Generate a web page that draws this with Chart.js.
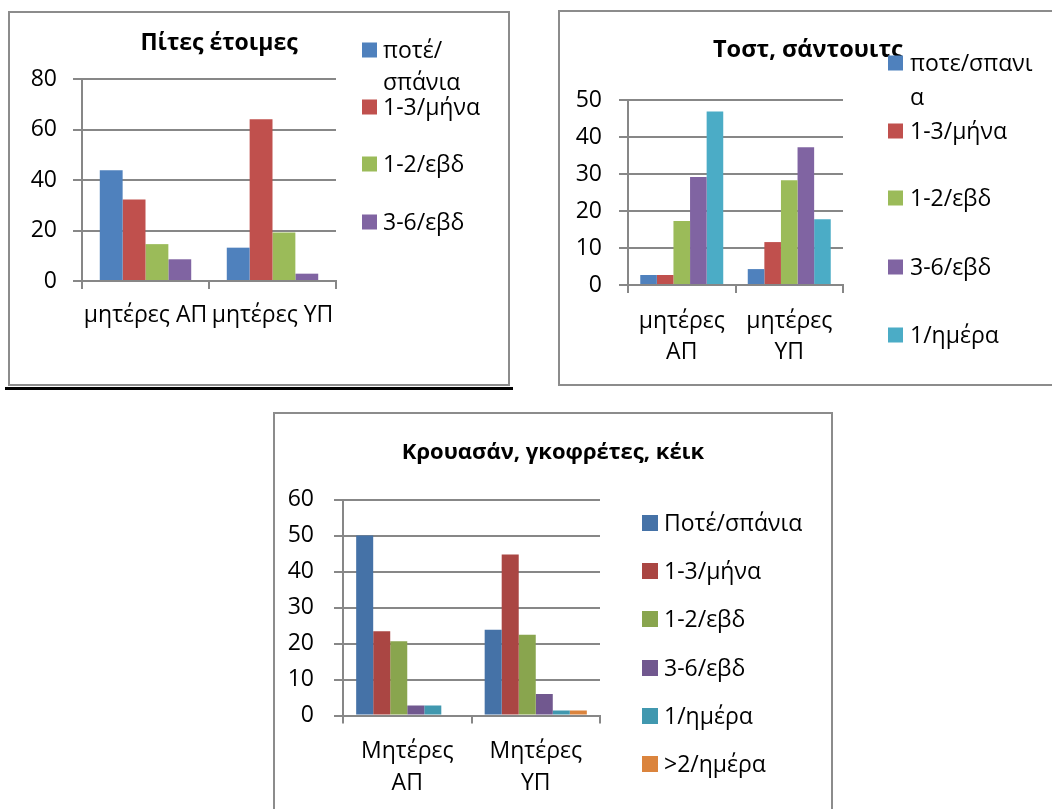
<!DOCTYPE html>
<html>
<head>
<meta charset="utf-8">
<script src="https://cdn.jsdelivr.net/npm/chart.js@4.4.1/dist/chart.umd.min.js"></script>
<style>
  html, body { margin: 0; padding: 0; background: #fff; }
  body { width: 1052px; height: 809px; position: relative; overflow: hidden; }
  canvas.layer { position: absolute; left: 0; top: 0; }
  .frame { position: absolute; border: 2px solid #8c8c8c; box-sizing: border-box; }
  .rule { position: absolute; background: #000; }
</style>
</head>
<body>
<div class="frame" style="left:8px;top:11px;width:502px;height:375px"></div>
<div class="rule" style="left:5px;top:387px;width:508px;height:3px"></div>
<div class="frame" style="left:558px;top:10px;width:520px;height:376px"></div>
<div class="frame" style="left:273px;top:412px;width:560px;height:420px"></div>
<canvas id="pites" class="layer" width="1052" height="809"></canvas>
<canvas id="tost" class="layer" width="1052" height="809"></canvas>
<canvas id="kroua" class="layer" width="1052" height="809"></canvas>
<script>
// ---- data ----
const pitesTitle = 'Πίτες έτοιμες';
const pitesCategories = ['μητέρες ΑΠ', 'μητέρες ΥΠ'];
const pitesSeries = [['ποτέ/', 'σπάνια'], ['1-3/μήνα'], ['1-2/εβδ'], ['3-6/εβδ']];
const pitesNever = [43.9, 13.2];
const pitesMonthly = [32.3, 64.1];
const pitesWeekly12 = [14.6, 19.2];
const pitesWeekly36 = [8.6, 2.9];
const pitesTicks = [0, 20, 40, 60, 80];

const tostTitle = 'Τοστ, σάντουιτς';
const tostCategories = [['μητέρες', 'ΑΠ'], ['μητέρες', 'ΥΠ']];
const tostSeries = [['ποτε/σπανι', 'α'], ['1-3/μήνα'], ['1-2/εβδ'], ['3-6/εβδ'], ['1/ημέρα']];
const tostNever = [2.7, 4.3];
const tostMonthly = [2.7, 11.6];
const tostWeekly12 = [17.3, 28.3];
const tostWeekly36 = [29.2, 37.2];
const tostDaily = [46.9, 17.8];
const tostTicks = [0, 10, 20, 30, 40, 50];

const krouaTitle = 'Κρουασάν, γκοφρέτες, κέικ';
const krouaCategories = [['Μητέρες', 'ΑΠ'], ['Μητέρες', 'ΥΠ']];
const krouaSeries = [['Ποτέ/σπάνια'], ['1-3/μήνα'], ['1-2/εβδ'], ['3-6/εβδ'], ['1/ημέρα'], ['>2/ημέρα']];
const krouaNever = [50.0, 23.8];
const krouaMonthly = [23.4, 44.7];
const krouaWeekly12 = [20.6, 22.4];
const krouaWeekly36 = [2.8, 6.0];
const krouaDaily = [2.8, 1.4];
const krouaTwiceDaily = [0, 1.4];
const krouaTicks = [0, 10, 20, 30, 40, 50, 60];

// ---- styling ----
const FONT = '"Open Sans", "DejaVu Sans", sans-serif';
const GRID = '#878787';
const OFFICE = ['#4F81BD', '#C0504D', '#9BBB59', '#8064A2', '#4BACC6'];
const CLASSIC = ['#4572A7', '#AA4643', '#89A54E', '#71588F', '#4198AF', '#DB843D'];

// title + legend drawn at fixed places inside each framed panel
const panelPlugin = {
  id: 'panel',
  afterDraw(chart, args, o) {
    const ctx = chart.ctx;
    ctx.save();
    ctx.fillStyle = '#000';
    ctx.font = 'bold ' + o.titleSize + 'px ' + FONT;
    ctx.textAlign = o.titleAlign;
    ctx.textBaseline = 'middle';
    ctx.fillText(o.title, o.titleX, o.titleY);

    ctx.font = o.legendSize + 'px ' + FONT;
    ctx.textAlign = 'left';
    chart.data.datasets.forEach((ds, i) => {
      const ys = o.legendY[i];
      ctx.fillStyle = ds.backgroundColor;
      ctx.fillRect(o.boxX, ys[0] - o.boxSize / 2, o.boxSize, o.boxSize);
      ctx.fillStyle = '#000';
      o.legendText[i].forEach((t, k) => ctx.fillText(t, o.textX, ys[k] + 1));
    });
    ctx.restore();
  }
};

function panelChart(id, p) {
  const datasets = p.values.map((v, i) => ({
    label: p.series[i].join(''),
    data: v,
    backgroundColor: p.colors[i],
    borderWidth: 0,
    barPercentage: 1,
    categoryPercentage: p.catPct
  }));
  return new Chart(document.getElementById(id), {
    type: 'bar',
    data: { labels: p.categories, datasets },
    options: {
      responsive: false,
      animation: false,
      devicePixelRatio: 1,
      events: [],
      layout: {
        padding: {
          left: p.plot.left - p.yW,
          top: p.plot.top,
          right: 1052 - p.plot.right,
          bottom: 809 - p.plot.bottom - p.xH
        }
      },
      plugins: {
        legend: { display: false },
        title: { display: false },
        tooltip: { enabled: false },
        panel: {
          title: p.title, titleX: p.titleX, titleY: p.titleY, titleAlign: p.titleAlign,
          titleSize: p.titleSize,
          legendText: p.series, legendY: p.legendY, legendSize: p.fontSize,
          boxX: p.boxX, boxSize: p.boxSize, textX: p.textX
        }
      },
      scales: {
        x: {
          grid: { display: true, drawOnChartArea: false, drawTicks: true, tickLength: 8, color: GRID, lineWidth: 2 },
          border: { display: true, color: GRID, width: 2 },
          ticks: {
            color: '#000', padding: p.xPad, maxRotation: 0, autoSkip: false,
            font: { family: FONT, size: p.fontSize, lineHeight: p.catLine }
          },
          afterFit(s) { s.height = p.xH; }
        },
        y: {
          min: 0,
          max: p.ticks[p.ticks.length - 1],
          afterBuildTicks(s) { s.ticks = p.ticks.map(v => ({ value: v })); },
          grid: { color: GRID, lineWidth: 2, drawTicks: true, tickLength: 9 },
          border: { display: true, color: GRID, width: 2 },
          ticks: { color: '#000', padding: p.yPad, font: { family: FONT, size: p.fontSize } },
          afterFit(s) { s.width = p.yW; }
        }
      }
    },
    plugins: [panelPlugin]
  });
}

panelChart('pites', {
  title: pitesTitle, titleX: 219, titleY: 43, titleAlign: 'center', titleSize: 23,
  categories: pitesCategories, series: pitesSeries,
  values: [pitesNever, pitesMonthly, pitesWeekly12, pitesWeekly36],
  colors: OFFICE, ticks: pitesTicks,
  plot: { left: 82, top: 79, right: 336, bottom: 281 },
  yW: 62, xH: 70, yPad: 16, xPad: 13, catPct: 0.72, catLine: 1.2, fontSize: 23,
  boxX: 362, boxSize: 15, textX: 383,
  legendY: [[50, 82], [107], [164], [222]]
});

panelChart('tost', {
  title: tostTitle, titleX: 713, titleY: 50, titleAlign: 'left', titleSize: 23.5,
  categories: tostCategories, series: tostSeries,
  values: [tostNever, tostMonthly, tostWeekly12, tostWeekly36, tostDaily],
  colors: OFFICE, ticks: tostTicks,
  plot: { left: 628, top: 100, right: 843, bottom: 285 },
  yW: 62, xH: 90, yPad: 17, xPad: 13, catPct: 0.772, catLine: 1.35, fontSize: 23,
  boxX: 888, boxSize: 15, textX: 910,
  legendY: [[63, 97], [131], [198], [267], [335]]
});

panelChart('kroua', {
  title: krouaTitle, titleX: 553, titleY: 453, titleAlign: 'center', titleSize: 22,
  categories: krouaCategories, series: krouaSeries,
  values: [krouaNever, krouaMonthly, krouaWeekly12, krouaWeekly36, krouaDaily, krouaTwiceDaily],
  colors: CLASSIC, ticks: krouaTicks,
  plot: { left: 343, top: 499.5, right: 600, bottom: 715.5 },
  yW: 70, xH: 85, yPad: 20, xPad: 12, catPct: 0.795, catLine: 1.39, fontSize: 23,
  boxX: 642, boxSize: 16, textX: 664,
  legendY: [[523], [571], [619], [668], [716], [764]]
});
</script>
</body>
</html>
